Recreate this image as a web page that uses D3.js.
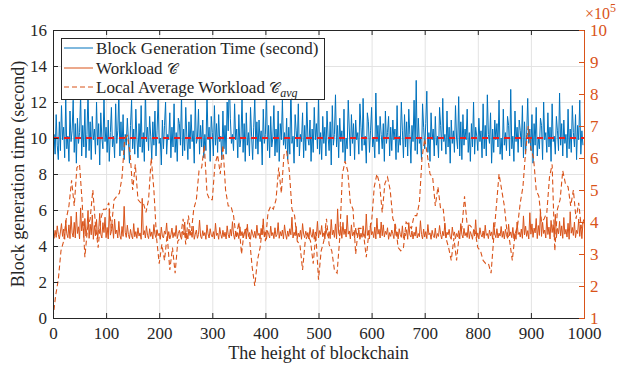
<!DOCTYPE html>
<html>
<head>
<meta charset="utf-8">
<script src="https://cdn.jsdelivr.net/npm/d3@7"></script>
<style>
  html, body { margin: 0; padding: 0; background: #fff; }
  svg { display: block; }
  text { font-family: "Liberation Serif", "Times New Roman", serif; }
</style>
</head>
<body>
<svg id="chart" width="622" height="372"></svg>
<script>
// ---------------- data ----------------
const heightStepBlock = 2;      // block time & workload sampled every 2 blocks
const heightStepAvg = 5;        // local average sampled every 5 blocks
const blockTime = [
8.4,10.2,9.1,11.3,9.6,8.8,10.9,9.3,11.8,9.9,
10.6,8.9,12.2,9.4,10.1,8.7,11.5,9.8,10.4,12.1,
9.2,10.8,8.6,11.1,9.7,10.3,12.4,9.0,10.7,9.5,
11.6,8.9,10.2,12.6,9.3,10.9,8.8,11.2,9.9,10.5,
9.1,12.0,9.6,10.8,8.5,11.4,10.0,9.4,12.3,9.8,
10.6,9.2,11.0,8.7,10.3,11.7,9.5,10.1,8.9,11.9,
9.7,10.4,12.5,9.0,10.9,9.3,11.3,8.8,10.2,9.6,
11.1,9.9,8.6,10.7,12.1,9.4,10.5,9.1,11.6,10.0,
8.9,10.8,9.5,11.8,9.2,10.3,8.7,12.7,9.8,10.6,
9.3,11.2,10.1,8.8,10.9,9.6,11.5,9.0,10.4,12.2,
9.7,10.0,8.5,11.0,9.4,10.7,12.0,9.1,10.2,9.9,
11.4,8.9,10.6,9.5,11.9,9.2,10.3,8.7,11.1,10.8,
9.6,12.4,9.0,10.5,9.3,11.7,10.1,8.8,10.9,9.4,
11.3,9.8,10.4,8.6,12.1,9.7,10.0,11.6,9.1,10.7,
9.5,11.0,8.9,10.2,9.3,12.5,9.9,10.6,8.7,11.2,
10.3,9.0,11.8,9.6,10.8,9.2,11.3,9.8,10.1,8.8,
11.5,9.4,10.7,9.1,12.0,10.4,13.4,11.1,9.7,10.2,
9.3,11.9,9.9,10.5,8.9,11.3,9.5,10.0,12.3,9.2,
10.8,8.7,11.4,9.6,10.3,9.0,11.7,10.1,8.8,10.6,
12.2,9.4,10.9,9.1,11.0,9.8,10.4,8.5,11.6,9.7,
10.2,12.6,9.3,10.7,8.9,11.2,9.5,10.0,11.8,9.0,
10.5,9.2,11.5,8.7,10.8,9.9,12.1,9.6,10.3,9.4,
11.1,8.8,10.6,9.1,12.8,9.7,10.1,8.6,11.3,10.4,
9.5,11.9,9.0,10.2,9.8,11.4,8.9,10.7,9.3,12.0,
10.0,9.6,11.0,8.7,10.5,9.2,11.7,9.9,10.8,9.4,
12.3,9.1,10.3,8.8,11.2,9.7,10.6,9.0,11.5,10.1,
9.3,10.9,8.5,11.8,9.6,10.2,12.4,9.5,10.7,8.9,
11.1,9.8,10.4,9.2,11.6,8.7,10.0,9.4,12.1,10.5,
9.0,11.3,9.7,10.8,8.8,11.0,9.9,10.3,9.1,11.9,
10.6,9.3,12.2,9.6,10.1,8.6,11.4,10.9,9.2,10.4,
11.7,9.5,10.0,8.9,12.5,9.8,10.7,9.1,11.2,10.2,
9.4,10.8,8.7,11.5,9.7,10.3,11.2,9.0,10.6,9.3,
11.0,9.9,10.5,8.8,11.8,9.2,10.1,9.6,12.0,10.4,
8.9,11.3,9.5,10.9,9.0,11.6,10.2,8.6,10.7,9.8,
12.1,9.3,13.2,9.1,11.1,9.7,10.0,8.8,11.9,10.6,
9.4,10.8,12.6,9.2,10.3,8.7,11.4,9.9,10.5,9.0,
11.2,9.6,10.1,8.9,11.7,10.7,9.3,12.2,9.8,10.2,
9.1,11.5,9.5,10.6,8.6,11.0,9.7,10.4,9.2,11.8,
10.0,9.4,12.3,9.0,10.9,8.8,11.3,9.6,10.5,9.9,
11.6,9.2,10.3,8.7,10.8,9.5,12.0,9.1,10.6,10.1,
9.3,11.1,9.8,10.4,8.9,11.9,9.4,10.7,9.0,12.4,
10.2,9.7,11.4,8.6,10.5,9.2,11.0,9.9,10.8,9.5,
12.1,9.1,10.0,8.8,11.6,9.6,10.3,9.3,11.2,10.7,
9.0,12.7,9.4,10.1,8.7,11.5,9.8,10.6,9.2,11.0,
10.4,9.5,11.8,8.9,10.9,9.1,10.2,12.2,9.7,10.5,
9.3,11.3,8.6,10.8,9.6,11.7,9.0,10.0,9.4,11.1,
10.7,8.8,12.0,9.9,10.3,9.2,11.4,9.5,10.6,8.7,
11.9,9.8,10.1,9.1,11.2,10.4,9.3,12.5,9.6,10.8,
9.0,11.0,9.7,10.2,8.9,11.6,9.4,10.5,9.2,11.8,
10.3,9.5,11.3,8.8,10.7,9.9,12.1,9.1,10.4,9.6
];
const workload = [ // x 10^5
3.58,3.49,3.74,3.52,3.88,3.61,3.47,3.69,3.95,3.55,
3.78,3.46,4.05,3.63,3.51,3.91,3.48,4.18,3.66,3.53,
3.99,3.50,4.31,3.64,3.85,3.47,4.44,3.72,4.01,3.52,
4.11,3.56,3.80,4.36,3.49,3.93,3.60,4.22,3.46,3.89,
3.57,4.08,3.48,3.76,4.27,3.62,3.50,3.98,3.67,4.15,
3.51,3.83,3.47,4.40,3.59,3.71,3.94,3.49,4.09,3.63,
3.75,3.50,4.02,3.58,3.46,3.86,3.55,4.49,3.68,3.52,
3.90,3.61,3.48,3.77,3.57,3.47,3.95,3.54,3.70,3.49,
3.82,3.56,3.66,3.46,4.74,3.60,3.73,3.50,3.88,3.58,
3.48,3.79,3.55,3.69,3.47,3.92,3.61,3.51,3.76,3.57,
3.65,3.46,3.84,3.56,3.50,3.72,3.62,3.97,3.49,3.70,
3.47,3.60,3.81,3.51,3.67,3.55,3.89,3.48,3.64,3.74,
3.56,3.46,3.71,3.60,4.00,3.50,3.66,3.47,3.78,3.58,
3.68,3.52,3.87,3.46,3.62,3.75,3.49,3.61,4.06,3.55,
3.48,3.73,3.57,3.67,3.46,3.91,3.63,3.50,3.79,3.59,
3.53,3.70,3.47,3.96,3.58,3.65,3.46,3.83,3.61,3.49,
3.74,3.54,3.68,3.47,3.88,3.60,3.50,3.77,3.56,4.01,
3.62,3.46,3.72,3.55,3.66,3.48,3.85,3.57,3.70,3.50,
3.61,3.78,3.47,3.93,3.55,3.67,3.46,3.76,3.63,3.52,
3.71,3.49,3.90,3.58,3.65,3.47,3.80,3.60,4.10,3.53,
3.68,3.46,3.73,3.62,3.50,3.87,3.57,3.67,3.48,3.82,
3.54,3.61,3.98,3.49,3.70,3.56,3.75,3.47,3.91,3.63,
3.46,3.72,3.55,3.79,3.60,4.15,3.50,3.68,3.57,3.86,
3.48,3.65,3.53,3.74,3.46,3.95,3.62,3.51,3.71,3.58,
3.67,3.47,3.83,3.60,3.52,3.77,3.46,3.69,3.56,4.02,
3.50,3.73,3.61,3.89,3.54,3.66,3.47,3.81,3.63,3.55,
3.70,3.48,4.08,3.60,3.75,3.52,3.94,3.47,4.41,3.65,
3.56,3.86,3.49,3.99,3.61,3.78,3.53,4.21,3.62,3.72,
3.47,3.91,3.57,3.68,3.50,3.81,3.61,3.54,3.76,3.46,
3.65,3.52,3.88,3.63,3.49,4.25,3.58,3.73,3.47,3.96,
3.60,3.70,3.51,3.84,3.47,4.12,3.62,3.77,3.50,4.00,
3.57,3.91,3.53,3.71,3.61,3.82,3.46,3.67,3.55,3.75,
3.63,3.48,3.93,3.58,3.69,3.47,3.79,3.61,3.52,3.88,
3.49,3.66,3.57,3.76,3.46,3.98,3.60,3.53,3.72,3.47,
3.68,3.56,3.85,3.50,3.64,3.54,4.04,3.61,3.47,3.78,
3.53,3.70,3.48,3.92,3.60,3.66,3.46,3.74,3.58,3.51,
3.81,3.49,3.64,3.55,3.89,3.61,3.47,3.71,3.57,3.97,
3.50,3.68,3.60,3.77,3.53,3.46,3.84,3.58,3.69,3.48,
3.64,3.54,3.73,3.47,3.95,3.61,3.50,3.80,3.57,3.67,
3.52,3.87,3.48,3.70,3.60,3.46,3.76,3.56,4.07,3.51,
3.66,3.47,3.82,3.61,3.53,3.72,3.49,3.90,3.58,3.64,
3.48,3.75,3.57,3.69,3.46,3.98,3.62,3.51,3.79,3.50,
3.65,3.56,3.86,3.52,3.71,3.47,3.77,3.60,3.49,3.93,
3.57,3.69,3.51,3.83,3.48,3.64,3.46,4.00,3.61,3.68,
3.53,3.78,3.49,4.19,3.60,3.87,3.55,3.73,3.47,4.29,
3.62,3.94,3.52,3.81,3.66,4.11,3.48,3.89,3.58,4.38,
3.55,3.99,3.64,3.75,3.50,4.16,3.61,3.84,3.47,4.05,
3.67,3.92,3.54,4.24,3.51,3.80,3.63,4.02,3.57,3.88,
3.49,4.14,3.62,3.77,3.53,3.96,3.46,4.32,3.65,3.83,
3.58,4.00,3.51,3.74,3.64,4.09,3.55,3.91,3.48,3.97
];
const localAvg = [ // x 10^5, every 5 blocks, 0..1000
1.0,1.7,2.2,3.1,3.4,4.1,4.5,5.3,4.5,5.7,
5.8,4.6,2.9,3.8,4.1,5.0,3.9,3.2,4.1,4.4,
4.4,4.6,3.8,4.7,4.8,4.9,5.4,6.6,6.7,6.2,
5.0,5.8,4.7,4.6,4.6,4.3,4.7,6.0,5.0,3.5,
2.7,3.3,2.8,3.6,2.5,3.2,2.4,3.4,3.5,4.1,
3.3,4.2,3.6,4.4,4.7,5.6,5.7,6.4,4.9,4.7,
4.7,5.8,6.1,5.5,6.4,5.0,4.5,4.5,4.2,3.5,
4.0,3.0,3.7,3.8,3.5,2.6,2.0,2.8,3.2,3.9,
3.4,4.3,4.5,4.4,4.7,5.7,4.9,6.1,6.2,5.6,
4.4,4.2,3.4,3.3,2.5,3.4,3.6,3.4,2.7,3.6,
2.2,3.1,3.4,4.1,3.3,3.1,2.5,2.4,3.5,5.5,
5.9,5.6,4.6,4.4,3.0,3.8,3.8,3.6,2.9,3.7,
4.0,5.1,5.5,5.2,4.3,5.2,5.4,5.0,4.1,3.9,
3.2,3.1,3.2,4.0,3.9,3.8,4.2,4.2,4.6,6.0,
6.6,6.1,5.5,5.4,4.5,5.1,4.4,4.4,3.5,3.2,
2.8,3.5,2.8,3.6,3.8,4.8,3.9,3.9,3.8,3.7,
3.2,3.1,2.8,2.7,2.7,2.4,3.5,4.5,5.5,5.0,
4.5,3.7,3.4,2.8,3.6,3.9,4.6,5.1,6.2,7.0,
6.3,6.0,5.0,4.8,4.0,4.1,4.3,5.4,5.8,3.1,
4.4,4.7,5.6,5.2,5.1,4.5,5.0,4.1,4.6,3.8,
4.1
];
const targetTime = 10;
const xTicks = [0,100,200,300,400,500,600,700,800,900,1000];
const yLeftTicks = [0,2,4,6,8,10,12,14,16];
const yRightTicks = [1,2,3,4,5,6,7,8,9,10];
const legendLabels = ["Block Generation Time (second)", "Workload ", "Local Average Workload "];

// ---------------- layout ----------------
const L = 53, R = 584, T = 30, B = 318;
const cBlue = "#0072BD", cOrange = "#D95319", cAxis = "#262626", cGrid = "#e3e3e3";
const FONT = "'Liberation Serif', 'Times New Roman', serif";
const svg = d3.select("#chart");
const x = d3.scaleLinear().domain([0, 1000]).range([L, R]);
const yL = d3.scaleLinear().domain([0, 16]).range([B, T]);
const yR = d3.scaleLinear().domain([1, 10]).range([B, T]);

// grid
const grid = svg.append("g");
grid.selectAll("line.gx").data(xTicks).join("line")
  .attr("x1", d => x(d) + 0.5).attr("x2", d => x(d) + 0.5)
  .attr("y1", T).attr("y2", B).attr("stroke", cGrid).attr("stroke-width", 1);
grid.selectAll("line.gy").data(yLeftTicks).join("line")
  .attr("y1", d => Math.round(yL(d)) + 0.5).attr("y2", d => Math.round(yL(d)) + 0.5)
  .attr("x1", L).attr("x2", R).attr("stroke", cGrid).attr("stroke-width", 1);

// clip
svg.append("clipPath").attr("id", "clip").append("rect")
  .attr("x", L).attr("y", T).attr("width", R - L).attr("height", B - T);
const plot = svg.append("g").attr("clip-path", "url(#clip)");

const lineL = d3.line().x(d => x(d[0])).y(d => yL(d[1]));
const lineR = d3.line().x(d => x(d[0])).y(d => yR(d[1]));

plot.append("path")
  .datum(blockTime.map((v, i) => [i * heightStepBlock, v]))
  .attr("d", lineL).attr("fill", "none").attr("stroke", cBlue).attr("stroke-width", 1);

plot.append("path")
  .datum([[0, targetTime], [1000, targetTime]])
  .attr("d", lineL).attr("fill", "none").attr("stroke", "#ee1c1c")
  .attr("stroke-width", 2).attr("stroke-dasharray", "6,5");

plot.append("path")
  .datum(workload.map((v, i) => [i * heightStepBlock, v]))
  .attr("d", lineR).attr("fill", "none").attr("stroke", cOrange).attr("stroke-width", 1);

plot.append("path")
  .datum(localAvg.map((v, i) => [i * heightStepAvg, v]))
  .attr("d", lineR).attr("fill", "none").attr("stroke", cOrange).attr("stroke-width", 1.1)
  .attr("stroke-dasharray", "5,3");

// axes
const fontSize = 17;
const fmt = d3.format("d");
const bottomAxis = d3.axisBottom(x).tickValues(xTicks).tickSize(-5).tickPadding(9).tickFormat(fmt);
const gB = svg.append("g").attr("transform", `translate(0,${B})`).call(bottomAxis);
const topAxis = d3.axisTop(x).tickValues(xTicks).tickSize(-5).tickFormat("");
const gT = svg.append("g").attr("transform", `translate(0,${T})`).call(topAxis);
const leftAxis = d3.axisLeft(yL).tickValues(yLeftTicks).tickSize(-5).tickPadding(6).tickFormat(fmt);
const gL = svg.append("g").attr("transform", `translate(${L},0)`).call(leftAxis);
const rightAxis = d3.axisRight(yR).tickValues(yRightTicks).tickSize(-5).tickPadding(6).tickFormat(fmt);
const gR = svg.append("g").attr("transform", `translate(${R},0)`).call(rightAxis);

[gB, gT, gL].forEach(g => {
  g.select(".domain").attr("stroke", cAxis);
  g.selectAll(".tick line").attr("stroke", cAxis);
  g.selectAll(".tick text").attr("fill", cAxis)
    .style("font-size", fontSize + "px").style("font-family", FONT);
});
gR.select(".domain").attr("stroke", cOrange);
gR.selectAll(".tick line").attr("stroke", cOrange);
gR.selectAll(".tick text").attr("fill", cOrange)
  .style("font-size", fontSize + "px").style("font-family", FONT);
[gB, gT, gL, gR].forEach(g => g.select(".domain").attr("stroke-width", 1));

// exponent label
const ex = svg.append("text").attr("x", 585).attr("y", 19).attr("fill", cOrange)
  .style("font-size", "16px").style("font-family", FONT);
ex.append("tspan").text("\u00d710");
ex.append("tspan").attr("dy", -7).style("font-size", "12px").text("5");

// axis titles
svg.append("text").attr("x", (L + R) / 2).attr("y", 359).attr("text-anchor", "middle")
  .style("font-size", "18px").attr("fill", cAxis).text("The height of blockchain");
svg.append("text").attr("transform", `translate(24,${(T + B) / 2}) rotate(-90)`)
  .attr("text-anchor", "middle").style("font-size", "18px").attr("fill", cAxis)
  .text("Block generation time (second)");

// legend
const lg = svg.append("g");
lg.append("rect").attr("x", 61.5).attr("y", 38.5).attr("width", 263).attr("height", 61)
  .attr("fill", "#fff").attr("stroke", cAxis).attr("stroke-width", 1);
const rows = [48, 68, 87];
const styles = [
  { c: cBlue, dash: null },
  { c: cOrange, dash: null },
  { c: cOrange, dash: "5,3" }
];
rows.forEach((ry, i) => {
  lg.append("line").attr("x1", 64).attr("x2", 93).attr("y1", ry).attr("y2", ry)
    .attr("stroke", styles[i].c).attr("stroke-width", 1)
    .attr("stroke-dasharray", styles[i].dash);
  const t = lg.append("text").attr("x", 96).attr("y", ry + 5.5).style("font-size", "17px")
    .attr("fill", cAxis).text(legendLabels[i]);
  if (i > 0) {
    t.append("tspan").style("font-family", "'DejaVu Serif', 'DejaVu Sans', serif")
      .style("font-size", "15px").text("\u{1D49E}");
  }
  if (i === 2) {
    t.append("tspan").attr("dy", 4).style("font-size", "12px").style("font-style", "italic").text("avg");
  }
});
</script>
</body>
</html>
